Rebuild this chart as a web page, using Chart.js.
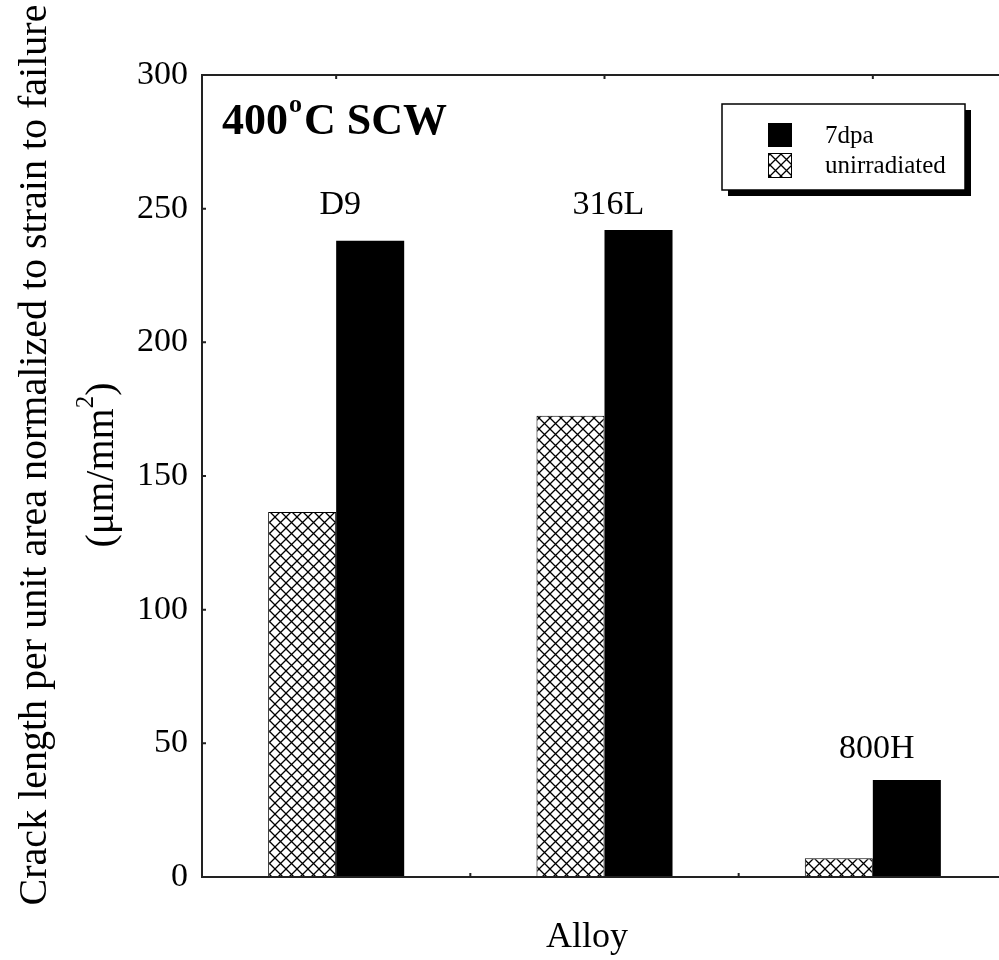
<!DOCTYPE html>
<html>
<head>
<meta charset="utf-8">
<script src="https://cdn.jsdelivr.net/npm/chart.js@4"></script>
<style>
  html, body { margin: 0; padding: 0; background: #fff; overflow: hidden; }
  canvas { display: block; }
</style>
</head>
<body>
<canvas id="alloyChart" width="1010" height="960"></canvas>
<script>
const categories = ["D9", "316L", "800H"];
const unirradiated = [136.5, 172.5, 7];
const dpa7 = [238, 242, 36.3];
const yTicks = [0, 50, 100, 150, 200, 250, 300];
const labelLevels = [248, 248, 44.5]; // value where each alloy name sits

const SERIF = "'Liberation Serif', 'Times New Roman', serif";

// cross-hatch fill for the unirradiated bars
function makeHatch() {
    const c = document.createElement("canvas");
    c.width = 11;
    c.height = 11;
    const g = c.getContext("2d");
    g.fillStyle = "#fff";
    g.fillRect(0, 0, 11, 11);
    g.strokeStyle = "#000";
    g.lineWidth = 1.3;
    g.beginPath();
    g.moveTo(0, 0); g.lineTo(11, 11);
    g.moveTo(11, 0); g.lineTo(0, 11);
    g.stroke();
    return g.createPattern(c, "repeat");
}
const hatch = makeHatch();

const decorations = {
    id: "decorations",
    afterDraw(chart) {
        const ctx = chart.ctx;
        const a = chart.chartArea;
        const xs = chart.scales.x;
        const ys = chart.scales.y;
        ctx.save();

        // frame
        ctx.strokeStyle = "#222";
        ctx.lineWidth = 2;
        ctx.beginPath();
        ctx.moveTo(a.right, a.top);
        ctx.lineTo(a.left, a.top);
        ctx.lineTo(a.left, a.bottom);
        ctx.lineTo(a.right, a.bottom);
        ctx.lineTo(a.right, a.top);
        ctx.stroke();

        // small inward ticks
        ctx.beginPath();
        yTicks.forEach(v => {
            const y = ys.getPixelForValue(v);
            ctx.moveTo(a.left, y);
            ctx.lineTo(a.left + 4, y);
        });
        categories.forEach((c, i) => {
            const cx = xs.getPixelForValue(i);
            ctx.moveTo(cx, a.top);
            ctx.lineTo(cx, a.top + 4);
            if (i > 0) {
                const bx = (xs.getPixelForValue(i - 1) + cx) / 2;
                ctx.moveTo(bx, a.bottom);
                ctx.lineTo(bx, a.bottom - 4);
            }
        });
        ctx.stroke();

        // alloy names
        ctx.fillStyle = "#000";
        ctx.font = "34px " + SERIF;
        ctx.textAlign = "center";
        ctx.textBaseline = "alphabetic";
        categories.forEach((c, i) => {
            ctx.fillText(c, xs.getPixelForValue(i) + 4, ys.getPixelForValue(labelLevels[i]));
        });

        // panel title
        ctx.textAlign = "left";
        ctx.font = "bold 44px " + SERIF;
        let x = a.left + 20;
        const base = 134;
        ctx.fillText("400", x, base);
        x += ctx.measureText("400").width + 1;
        ctx.font = "bold 26px " + SERIF;
        ctx.fillText("o", x, base - 22);
        x += ctx.measureText("o").width + 2;
        ctx.font = "bold 44px " + SERIF;
        ctx.fillText("C SCW", x, base);

        // legend
        const lx = 722, ly = 104, lw = 243, lh = 86;
        ctx.fillStyle = "#000";
        ctx.fillRect(lx + 6, ly + 6, lw, lh);
        ctx.fillStyle = "#fff";
        ctx.fillRect(lx, ly, lw, lh);
        ctx.strokeStyle = "#000";
        ctx.lineWidth = 1.5;
        ctx.strokeRect(lx, ly, lw, lh);
        ctx.fillStyle = "#000";
        ctx.fillRect(768, 123, 24, 24);
        ctx.fillStyle = hatch;
        ctx.fillRect(768, 153, 24, 25);
        ctx.lineWidth = 1;
        ctx.strokeRect(768.5, 153.5, 23, 24);
        ctx.fillStyle = "#000";
        ctx.font = "25px " + SERIF;
        ctx.fillText(chart.data.datasets[1].label, 825, 143);
        ctx.fillText(chart.data.datasets[0].label, 825, 173);

        // axis titles
        ctx.font = "36px " + SERIF;
        ctx.textAlign = "center";
        ctx.fillText("Alloy", 587, 947);

        ctx.save();
        ctx.translate(35, 455);
        ctx.rotate(-Math.PI / 2);
        ctx.font = "40px " + SERIF;
        ctx.textBaseline = "middle";
        ctx.fillText("Crack length per unit area normalized to strain to failure", 0, 0);
        ctx.restore();

        ctx.save();
        ctx.translate(102, 465);
        ctx.rotate(-Math.PI / 2);
        ctx.textBaseline = "middle";
        ctx.textAlign = "left";
        const t1 = "(\u03bcm/mm";
        const t2 = ")";
        ctx.font = "40px " + SERIF;
        const w1 = ctx.measureText(t1).width;
        const w2 = ctx.measureText(t2).width;
        ctx.font = "25px " + SERIF;
        const ws = ctx.measureText("2").width;
        let sx = -(w1 + ws + w2) / 2;
        ctx.font = "40px " + SERIF;
        ctx.fillText(t1, sx, 0);
        sx += w1;
        ctx.font = "25px " + SERIF;
        ctx.fillText("2", sx, -16);
        sx += ws;
        ctx.font = "40px " + SERIF;
        ctx.fillText(t2, sx, 0);
        ctx.restore();

        ctx.restore();
    }
};

const ctx = document.getElementById("alloyChart").getContext("2d");

const alloyChart = new Chart(ctx, {
    type: "bar",
    data: {
        labels: categories,
        datasets: [
            {
                label: "unirradiated",
                data: unirradiated,
                backgroundColor: hatch,
                borderColor: "#000",
                borderWidth: 1,
                borderSkipped: false,
            },
            {
                label: "7dpa",
                data: dpa7,
                backgroundColor: "#000",
                borderColor: "#000",
                borderWidth: 0,
            },
        ],
    },
    options: {
        responsive: false,
        animation: false,
        devicePixelRatio: 1,
        layout: { padding: { top: 75, right: 3, left: 0, bottom: 0 } },
        datasets: {
            bar: { barPercentage: 1, categoryPercentage: 0.507 },
        },
        plugins: {
            legend: { display: false },
            tooltip: { enabled: false },
        },
        scales: {
            x: {
                grid: { display: false },
                border: { display: false },
                ticks: { display: false },
                afterFit: s => { s.height = 83; },
            },
            y: {
                min: 0,
                max: 300,
                grid: { display: false },
                border: { display: false },
                afterBuildTicks: s => { s.ticks = yTicks.map(v => ({ value: v })); },
                ticks: {
                    color: "#000",
                    padding: 6,
                    font: { family: SERIF, size: 34 },
                },
                afterFit: s => { s.width = 202; },
            },
        },
    },
    plugins: [decorations],
});
</script>
</body>
</html>
